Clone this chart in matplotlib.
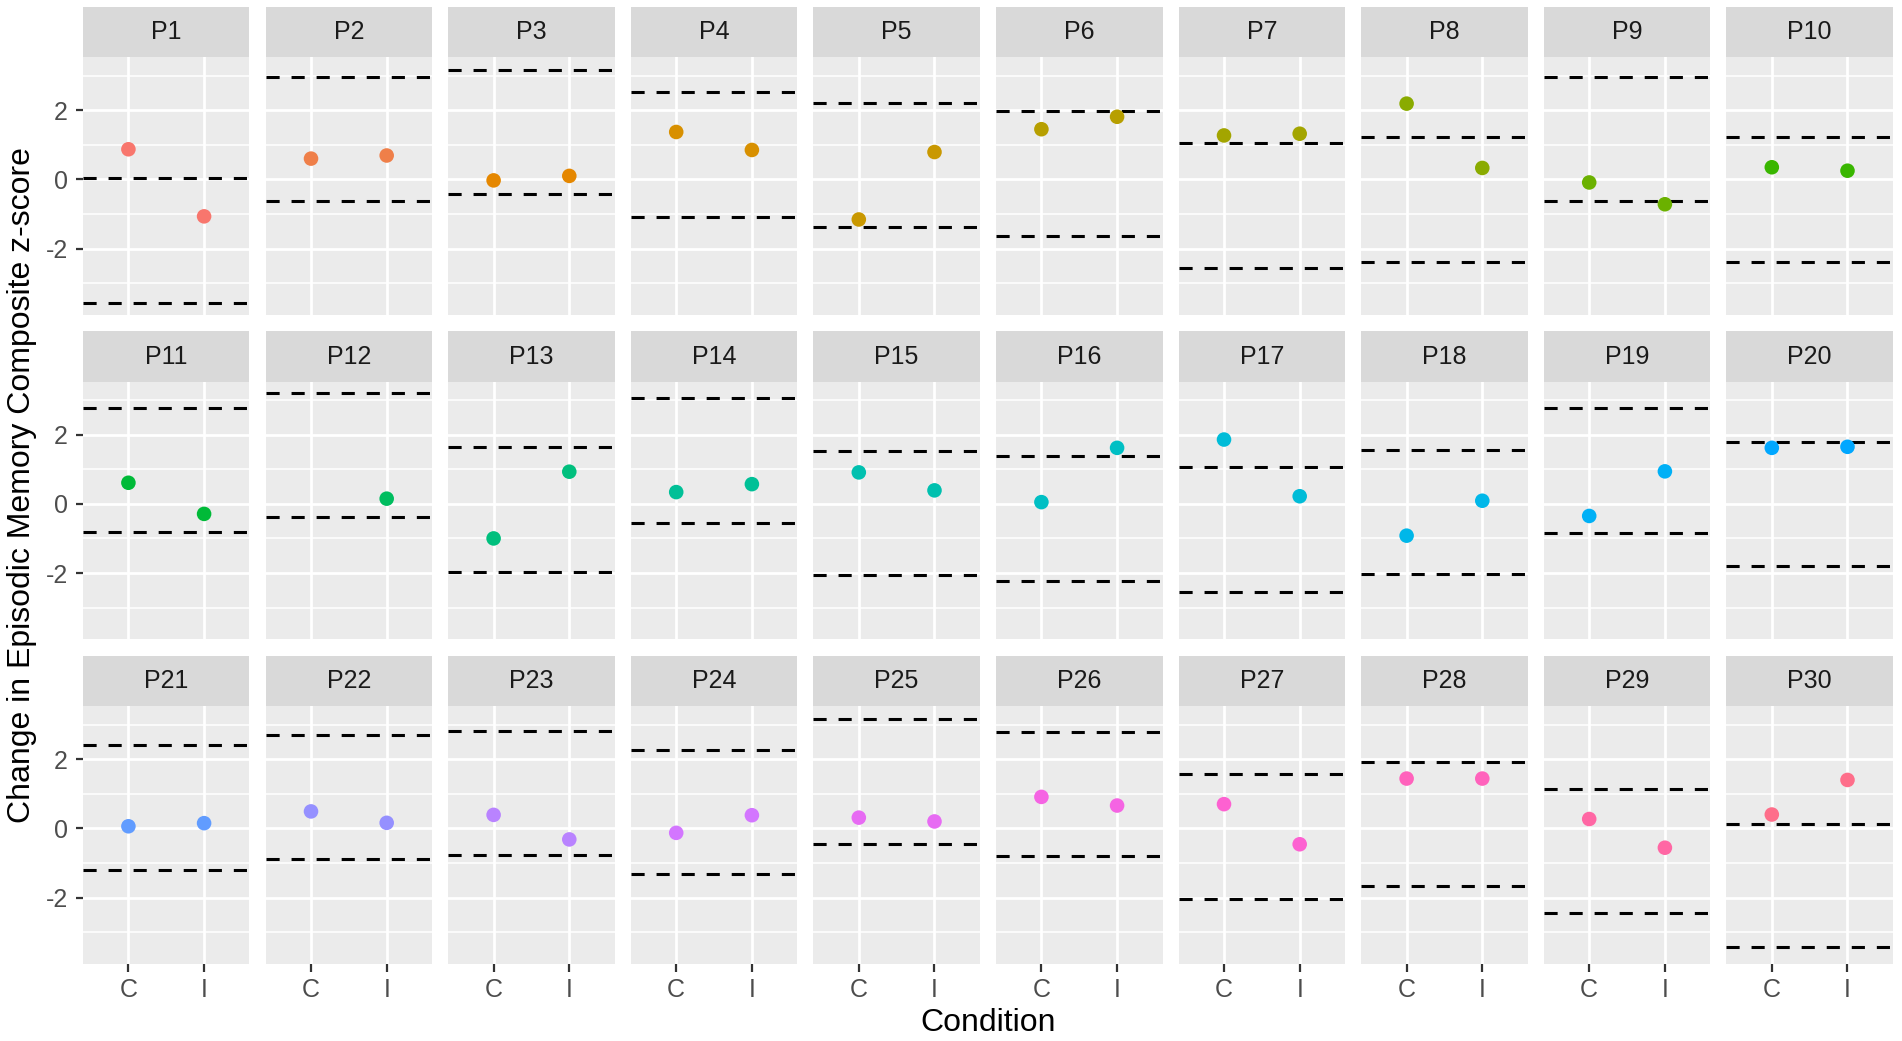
import numpy as np
import matplotlib
matplotlib.use("Agg")
import matplotlib.pyplot as plt

plt.rcParams['font.family'] = ['Liberation Sans', 'DejaVu Sans']

# data
participants = [f"P{i}" for i in range(1, 31)]
conditions = ["C", "I"]
change_c = [0.87, 0.60, -0.03, 1.37, -1.16, 1.45, 1.27, 2.19, -0.09, 0.35,
            0.61, np.nan, -1.00, 0.34, 0.91, 0.05, 1.86, -0.92, -0.35, 1.62,
            0.06, 0.49, 0.39, -0.13, 0.31, 0.91, 0.70, 1.44, 0.27, 0.40]
change_i = [-1.07, 0.69, 0.10, 0.85, 0.79, 1.81, 1.32, 0.33, -0.72, 0.25,
            -0.29, 0.15, 0.93, 0.57, 0.39, 1.62, 0.22, 0.09, 0.94, 1.65,
            0.15, 0.16, -0.32, 0.38, 0.20, 0.66, -0.46, 1.44, -0.56, 1.40]
upper = [0.04, 2.97, 3.16, 2.53, 2.22, 1.97, 1.04, 1.22, 2.97, 1.22,
         2.78, 3.20, 1.63, 3.05, 1.53, 1.37, 1.06, 1.56, 2.76, 1.79,
         2.40, 2.69, 2.81, 2.27, 3.17, 2.78, 1.56, 1.91, 1.14, 0.14]
lower = [-3.57, -0.63, -0.43, -1.10, -1.39, -1.64, -2.57, -2.38, -0.64, -2.38,
         -0.81, -0.39, -1.97, -0.54, -2.07, -2.22, -2.54, -2.04, -0.83, -1.80,
         -1.21, -0.90, -0.78, -1.32, -0.44, -0.81, -2.04, -1.67, -2.45, -3.44]


def hue_pal(n, c=100.0, l=65.0):
    # ggplot2 default discrete palette (HCL -> sRGB)
    hues = np.linspace(15, 375, n + 1)[:n]
    xn, yn, zn = 95.047, 100.0, 108.883
    un = 4 * xn / (xn + 15 * yn + 3 * zn)
    vn = 9 * yn / (xn + 15 * yn + 3 * zn)
    out = []
    for h in hues:
        u = c * np.cos(np.radians(h))
        v = c * np.sin(np.radians(h))
        Y = yn * ((l + 16) / 116) ** 3
        up = u / (13 * l) + un
        vp = v / (13 * l) + vn
        X = 9.0 * Y * up / (4 * vp)
        Z = -X / 3 - 5 * Y + 3 * Y / vp
        xyz = np.array([X, Y, Z]) / 100
        m = np.array([[3.240479, -1.537150, -0.498535],
                      [-0.969256, 1.875992, 0.041556],
                      [0.055648, -0.204043, 1.057311]])
        rgb = m @ xyz
        rgb = np.where(rgb > 0.0031308, 1.055 * np.abs(rgb) ** (1 / 2.4) - 0.055, 12.92 * rgb)
        out.append(tuple(np.clip(rgb, 0, 1)))
    return out


colors = hue_pal(len(participants))

allvals = np.concatenate([change_c, change_i, upper, lower])
lo, hi = np.nanmin(allvals), np.nanmax(allvals)
pad = 0.05 * (hi - lo)

W, H = 1902, 1041
fig = plt.figure(figsize=(W / 100, H / 100), dpi=100)

left0, pw, pitch = 83, 166.5, 182.6
top0, strip_h, panel_h, row_pitch = 7, 50, 257.5, 324.5
dash = (0, (4.3, 3.9))

for k, name in enumerate(participants):
    r, col = divmod(k, 10)
    x0 = left0 + col * pitch
    st = top0 + r * row_pitch
    pt = st + strip_h
    pb = pt + panel_h

    sax = fig.add_axes([x0 / W, 1 - pt / H, pw / W, strip_h / H])
    sax.set_facecolor('#D9D9D9')
    sax.set_xticks([]); sax.set_yticks([])
    for s in sax.spines.values():
        s.set_visible(False)
    sax.text(0.5, 0.5, name, ha='center', va='center', fontsize=18, color='#1A1A1A',
             transform=sax.transAxes)

    ax = fig.add_axes([x0 / W, 1 - pb / H, pw / W, panel_h / H])
    ax.set_facecolor('#EBEBEB')
    for s in ax.spines.values():
        s.set_visible(False)
    ax.set_xlim(0.4, 2.6)
    ax.set_ylim(lo - pad, hi + pad)
    ax.set_xticks([1, 2])
    ax.set_yticks([-2, 0, 2])
    ax.set_yticks([-3, -1, 1, 3], minor=True)
    ax.grid(which='major', color='white', lw=2.0)
    ax.grid(which='minor', axis='y', color='white', lw=1.1)
    ax.tick_params(which='minor', length=0)
    ax.set_axisbelow(True)

    ax.axhline(upper[k], color='black', lw=2.2, ls=dash, zorder=2)
    ax.axhline(lower[k], color='black', lw=2.2, ls=dash, zorder=2)
    ax.scatter([1, 2], [change_c[k], change_i[k]], s=110, color=colors[k],
               edgecolors='none', zorder=3)

    if col == 0:
        ax.tick_params(axis='y', length=5, width=1.6, color='#333333', pad=6,
                       labelsize=18, labelcolor='#4D4D4D')
        ax.set_yticklabels(['-2', '0', '2'])
    else:
        ax.tick_params(axis='y', length=0, labelleft=False)
    if r == 2:
        ax.set_xticklabels(conditions)
        ax.tick_params(axis='x', length=5.5, width=1.6, color='#333333', pad=5,
                       labelsize=18, labelcolor='#4D4D4D')
    else:
        ax.tick_params(axis='x', length=0, labelbottom=False)

fig.text(988 / W, 1 - 1023 / H, 'Condition', ha='center', va='center', fontsize=23)
fig.text(22 / W, 1 - 485 / H, 'Change in Episodic Memory Composite z-score',
         ha='center', va='center', rotation=90, fontsize=23)

fig.savefig('out.png', dpi=100)
